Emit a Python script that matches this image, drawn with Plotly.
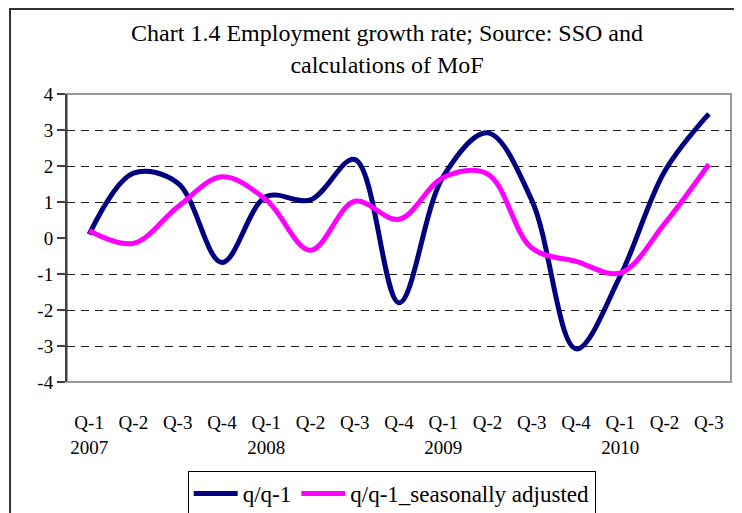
import plotly.graph_objects as go

# Quarterly employment growth rate, %
quarters = ["Q-1", "Q-2", "Q-3", "Q-4", "Q-1", "Q-2", "Q-3", "Q-4",
            "Q-1", "Q-2", "Q-3", "Q-4", "Q-1", "Q-2", "Q-3"]
years = ["2007", "", "", "", "2008", "", "", "",
         "2009", "", "", "", "2010", "", ""]
qq = [0.1, 1.8, 1.53, -0.68, 1.15, 1.06, 2.18, -1.8,
      1.71, 2.92, 1.05, -3.08, -1.05, 1.85, 3.45]
qq_sa = [0.2, -0.15, 0.86, 1.7, 1.06, -0.34, 1.02, 0.52,
         1.68, 1.78, -0.28, -0.65, -0.97, 0.4, 2.05]
y_ticks = [-4, -3, -2, -1, 0, 1, 2, 3, 4]

FONT = "Liberation Serif"
DARK = "#404040"

idx = list(range(len(quarters)))
ticktext = [q + "<br>" + y for q, y in zip(quarters, years)]
boundaries = [i - 0.5 for i in range(len(quarters) + 1)]

fig = go.Figure()
fig.add_trace(go.Scatter(x=idx, y=qq, name="q/q-1", mode="lines",
                         line=dict(color="#000080", width=5, shape="spline", smoothing=1)))
fig.add_trace(go.Scatter(x=idx, y=qq_sa, name="q/q-1_seasonally adjusted", mode="lines",
                         line=dict(color="#FF00FF", width=5, shape="spline", smoothing=1)))

# plot area frame and outer chart border
fig.add_shape(type="rect", xref="paper", yref="paper", x0=0, x1=1, y0=0, y1=1,
              line=dict(color="#999999", width=2), layer="below")
fig.add_shape(type="rect", xref="paper", yref="paper", x0=-0.0858, x1=1.05, y0=-0.5, y1=1.295,
              line=dict(color="#333333", width=2), layer="below")

# the page adds an 8px body margin, so the figure is 8px smaller than the window
fig.update_layout(
    width=734, height=505,
    margin=dict(l=59, r=11, t=86, b=131, autoexpand=False),
    paper_bgcolor="white", plot_bgcolor="white",
    font=dict(family=FONT, size=19, color="black"),
    title=dict(text="Chart 1.4 Employment growth rate; Source: SSO and<br>calculations of MoF",
               x=0.482, xref="paper", xanchor="center",
               y=0.934, yref="container", yanchor="top",
               font=dict(family=FONT, size=24, color="black")),
    xaxis=dict(range=[-0.5, len(quarters) - 0.5], tickvals=idx, ticktext=ticktext,
               ticks="outside", ticklen=23, tickcolor="rgba(0,0,0,0)",
               showline=False, showgrid=False, zeroline=False,
               tickfont=dict(family=FONT, size=19)),
    xaxis2=dict(overlaying="x", anchor="free", position=0.5, side="bottom",
                range=[-0.5, len(quarters) - 0.5], tickvals=boundaries,
                ticks="outside", ticklen=6, tickwidth=1.5, tickcolor=DARK,
                showline=True, linecolor=DARK, linewidth=2,
                showticklabels=False, showgrid=False, zeroline=False),
    yaxis=dict(range=[-4, 4], tickvals=y_ticks, ticktext=[str(v) for v in y_ticks],
               ticks="outside", ticklen=8,
               tickwidth=1.5, tickcolor=DARK, showline=True, linecolor=DARK, linewidth=2,
               showgrid=False, zeroline=False,
               tickfont=dict(family=FONT, size=19),
               minor=dict(tickvals=[v for v in y_ticks if v not in (-4, 0, 4)],
                          showgrid=True, gridcolor="#222222", gridwidth=1,
                          griddash="8px,6px", ticks="")),
    legend=dict(orientation="h", x=0.489, xanchor="center", y=-0.309, yanchor="top",
                bordercolor="black", borderwidth=1, bgcolor="white", itemwidth=44,
                font=dict(family=FONT, size=23)),
    showlegend=True,
)

fig.write_html("out.html")
